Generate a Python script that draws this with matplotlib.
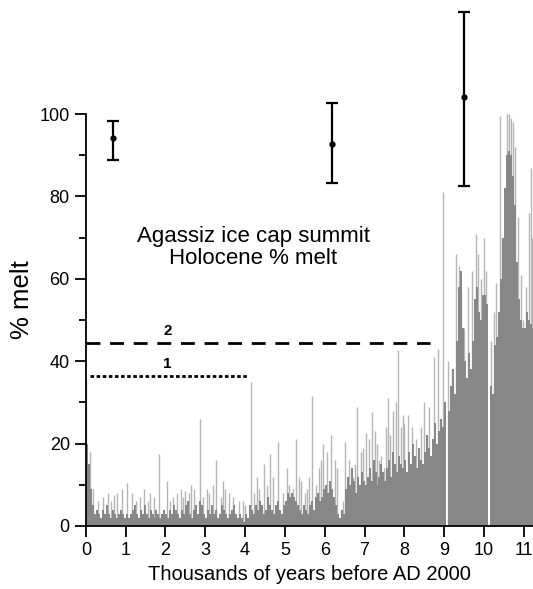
import numpy as np
import matplotlib.pyplot as plt

plt.rcParams['font.family'] = ['Liberation Sans', 'DejaVu Sans']

# dark fill: % melt in 50-year steps, 0.00 .. 11.20 ka
melt_base = [
    20, 15, 9, 5, 3, 4, 3, 2, 4, 3, 5, 3, 2, 4, 3, 2, 3, 4, 3, 2,        # 0 ka
    3, 2, 3, 4, 5, 3, 2, 4, 3, 5, 3, 2, 4, 3, 2, 4, 3, 2, 3, 4,          # 1 ka
    3, 2, 4, 3, 5, 4, 3, 2, 4, 3, 5, 6, 3, 2, 4, 5, 3, 6, 5, 3,          # 2 ka
    2, 4, 3, 5, 3, 4, 2, 3, 5, 4, 3, 2, 3, 4, 5, 3, 2, 3, 2, 1,          # 3 ka
    3, 2, 5, 4, 3, 5, 4, 6, 5, 3, 4, 7, 5, 4, 3, 5, 6, 4, 3, 5,          # 4 ka
    6, 8, 7, 8, 7, 6, 5, 4, 3, 5, 4, 3, 5, 6, 4, 7, 8, 6, 7, 9,          # 5 ka
    10, 8, 11, 9, 7, 5, 3, 2, 4, 3, 9, 12, 10, 14, 11, 8, 12, 10, 13, 11,  # 6 ka
    10, 12, 14, 11, 16, 13, 10, 12, 15, 13, 11, 14, 16, 12, 18, 15, 13, 17, 15, 14,  # 7 ka
    16, 13, 18, 15, 20, 17, 14, 19, 16, 15, 18, 22, 19, 17, 21, 25, 20, 23, 26, 24,  # 8 ka
    30, 0, 28, 34, 38, 32, 45, 58, 62, 48, 40, 36, 42, 38, 45, 55, 58, 52, 50, 56,  # 9 ka
    56, 54, 0, 34, 32, 44, 46, 52, 60, 70, 82, 90, 91, 90, 85, 78, 64, 55, 50, 48,  # 10 ka
    48, 52, 50, 49, 48,                                                  # 11 ka
]
base_step = 0.05

# light gray single-year spikes
spike_ka = [0.0, 0.1, 0.18, 0.3, 0.42, 0.55, 0.62, 0.72, 0.78, 0.9,
            1.03, 1.15, 1.25, 1.35, 1.45, 1.55, 1.62, 1.7, 1.83, 2.03,
            2.2, 2.3, 2.38, 2.5, 2.6, 2.72, 2.88, 2.95, 3.1, 3.2,
            3.28, 3.4, 3.5, 3.6, 3.7, 3.85, 4.0, 4.15, 4.22, 4.35,
            4.48, 4.62, 4.7, 4.82, 4.95, 5.1, 5.2, 5.27, 5.4, 5.5,
            5.6, 5.68, 5.78, 5.85, 5.95, 6.05, 6.15, 6.25, 6.32, 6.5,
            6.6, 6.7, 6.8, 6.9, 7.03, 7.1, 7.18, 7.3, 7.42, 7.5,
            7.59, 7.65, 7.71, 7.84, 7.92, 8.0, 8.1, 8.2, 8.3, 8.42,
            8.5, 8.58, 8.62, 8.75, 8.85, 8.96, 9.1, 9.2, 9.3, 9.37,
            9.41, 9.5, 9.6, 9.7, 9.79, 9.85, 9.92, 10.0, 10.06, 10.18,
            10.25, 10.3, 10.39, 10.45, 10.58, 10.63, 10.68, 10.72, 10.78, 10.85,
            10.92, 10.98, 11.05, 11.12, 11.17, 11.2,
            2.12, 2.45, 2.65, 3.05, 3.45, 3.95, 4.3, 4.55, 5.05, 5.35,
            5.55, 5.9, 6.45, 6.75, 6.95, 7.25, 7.37, 7.55, 7.78, 7.97]
spike_melt = [36, 18, 9, 6, 7, 8, 6, 7.5, 8, 9,
              10.5, 8, 6, 7, 9, 6, 8, 7, 17.5, 11,
              7, 8, 9, 8.5, 8, 9, 26, 7, 8, 10,
              16, 7, 9, 8, 7, 6, 5, 35, 8, 9,
              15, 17.5, 12, 20.5, 8, 10, 9, 21, 11, 8,
              12, 31.5, 10, 14, 20, 18, 22, 16, 14, 20.5,
              16, 12, 29, 18, 22.5, 21, 27.7, 20, 17, 14,
              31, 22, 28, 42.7, 24, 25, 27, 24, 21, 24,
              30, 22, 29, 41, 43, 81, 40, 38, 66, 63,
              57, 48, 58, 62, 71, 66, 60, 70, 62, 45,
              52, 59, 99.6, 70, 100, 100, 99, 98, 92, 75,
              61, 50, 58, 76, 87, 70,
              6, 7, 10, 9, 11, 6, 12, 10, 14, 12,
              9, 16, 6, 15, 19, 23, 16, 24, 30, 27]

# error bars (estimates of mean melt)
err_ka = [0.68, 6.18, 9.5]
err_mean = [94.3, 92.7, 104.1]
err_low = [5.5, 9.5, 21.6]
err_high = [4.0, 10.0, 20.7]

fig = plt.figure(figsize=(5.33, 5.89), dpi=100)
ax = fig.add_axes([0.161, 0.107, 0.839, 0.893])

x_base = np.arange(len(melt_base)) * base_step
ax.vlines(spike_ka, 0, spike_melt, color='#b5b5b5', lw=1.0, zorder=1)
ax.bar(x_base, melt_base, width=base_step, align='edge', color='#878787',
       edgecolor='none', zorder=2)

ax.errorbar(err_ka, err_mean, yerr=[err_low, err_high], fmt='o', color='black',
            ms=3.5, lw=1.6, capsize=4, capthick=1.6, zorder=5)

# threshold lines
ax.hlines(44.4, 0, 8.65, colors='black', linestyles=(0, (5, 3.5)), lw=2, zorder=4)
ax.hlines(36.4, 0.1, 4.05, colors='black', linestyles=(0, (1.3, 0.9)), lw=2, zorder=4)
ax.text(2.05, 45.6, '2', ha='center', va='bottom', fontsize=11, fontweight='bold')
ax.text(2.05, 37.6, '1', ha='center', va='bottom', fontsize=11, fontweight='bold')

ax.text(4.2, 67.7, 'Agassiz ice cap summit\nHolocene % melt', ha='center',
        va='center', fontsize=16, linespacing=1.05)

ax.set_xlim(0, 11.23)
ax.set_ylim(0, 127.7)
ax.set_xticks(range(12))
ax.set_yticks(range(0, 101, 20))
ax.set_yticks(range(10, 100, 20), minor=True)
ax.spines['top'].set_visible(False)
ax.spines['right'].set_visible(False)
ax.spines['left'].set_bounds(0, 100)
ax.spines['left'].set_linewidth(1.3)
ax.spines['bottom'].set_linewidth(1.3)
ax.tick_params(axis='both', which='major', length=8, width=1.3, labelsize=13)
ax.tick_params(axis='y', which='minor', length=5, width=1.3)

ax.set_ylabel('% melt', fontsize=18.5)
ax.yaxis.set_label_coords(-0.115, 0.43)
ax.set_xlabel('Thousands of years before AD 2000', fontsize=14.5)

fig.savefig('out.png', dpi=100)
